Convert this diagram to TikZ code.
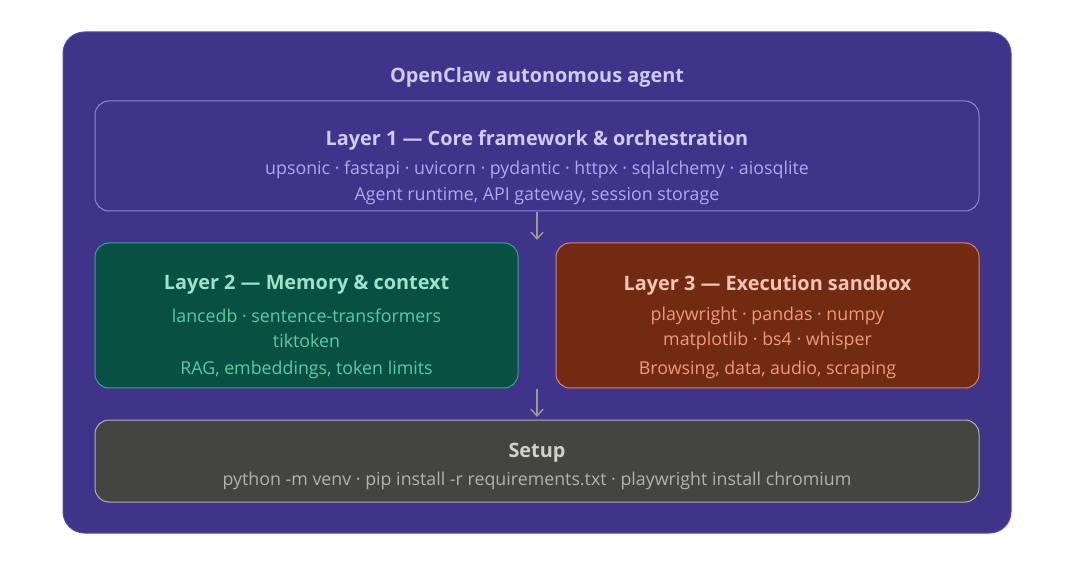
\documentclass[tikz,border=0pt]{standalone}
\usepackage{fontspec}
\setmainfont{Open Sans}
\usetikzlibrary{arrows.meta}
\definecolor{outerfill}{HTML}{3F3489}
\definecolor{outerline}{HTML}{534AB7}
\definecolor{lonefill}{HTML}{3F3489}
\definecolor{loneline}{HTML}{8F86E0}
\definecolor{lonetitle}{HTML}{CECBF6}
\definecolor{lonebody}{HTML}{AFA9EC}
\definecolor{ltwofill}{HTML}{085041}
\definecolor{ltwoline}{HTML}{3AA58A}
\definecolor{ltwotitle}{HTML}{9FE1CB}
\definecolor{ltwobody}{HTML}{5DCAA5}
\definecolor{lthreefill}{HTML}{712B13}
\definecolor{lthreeline}{HTML}{D8826A}
\definecolor{lthreetitle}{HTML}{F5C4B3}
\definecolor{lthreebody}{HTML}{F0997B}
\definecolor{setupfill}{HTML}{444441}
\definecolor{setupline}{HTML}{B4B2A9}
\definecolor{setuptitle}{HTML}{D3D1C7}
\definecolor{setupbody}{HTML}{B4B2A9}
\definecolor{arrowcol}{HTML}{9C9A92}
\begin{document}
\begin{tikzpicture}[x=0.75pt,y=-0.75pt,
  box/.style={rounded corners=10.5pt,line width=0.75pt},
  ttl/.style={font=\fontsize{14.9}{16}\selectfont\bfseries,anchor=center,inner sep=0pt,yshift=-1.6pt},
  bdy/.style={font=\fontsize{13.35}{15}\selectfont,anchor=center,inner sep=0pt,yshift=-1.6pt},
  conn/.style={draw=arrowcol,line width=1.1pt,-{Straight Barb[length=5pt,width=9pt]}}]
\useasboundingbox (0,0) rectangle (1074,584);
\draw[fill=outerfill,draw=outerline,line width=0.75pt,rounded corners=16pt] (63,32) rectangle (1011,533);
\node[ttl,text=lonetitle] (title) at (537,75) {OpenClaw autonomous agent};
% layer 1
\draw[box,fill=lonefill,draw=loneline] (95,101) rectangle (979,211);
\node[ttl,text=lonetitle] (l1t) at (537,138) {Layer 1 — Core framework \& orchestration};
\node[bdy,text=lonebody] (l1a) at (537,168) {upsonic · fastapi · uvicorn · pydantic · httpx · sqlalchemy · aiosqlite};
\node[bdy,text=lonebody] (l1b) at (537,194) {Agent runtime, API gateway, session storage};
% layer 2
\draw[box,fill=ltwofill,draw=ltwoline] (95,243) rectangle (518,388);
\node[ttl,text=ltwotitle] (l2t) at (306.5,283) {Layer 2 — Memory \& context};
\node[bdy,text=ltwobody] (l2a) at (306.5,314) {lancedb · sentence-transformers};
\node[bdy,text=ltwobody] (l2b) at (306.5,339) {tiktoken};
\node[bdy,text=ltwobody] (l2c) at (306.5,368) {RAG, embeddings, token limits};
% layer 3
\draw[box,fill=lthreefill,draw=lthreeline] (556,243) rectangle (979,388);
\node[ttl,text=lthreetitle] (l3t) at (767.5,283) {Layer 3 — Execution sandbox};
\node[bdy,text=lthreebody] (l3a) at (767.5,314) {playwright · pandas · numpy};
\node[bdy,text=lthreebody] (l3b) at (767.5,339) {matplotlib · bs4 · whisper};
\node[bdy,text=lthreebody] (l3c) at (767.5,368) {Browsing, data, audio, scraping};
% setup
\draw[box,fill=setupfill,draw=setupline] (95,420) rectangle (979,502);
\node[ttl,text=setuptitle] (st) at (537,451) {Setup};
\node[bdy,text=setupbody] (sa) at (537,479) {python -m venv · pip install -r requirements.txt · playwright install chromium};
% connectors
\coordinate (a1s) at (537,212);
\coordinate (a1e) at (537,240);
\coordinate (a2s) at (537,389);
\coordinate (a2e) at (537,417);
\draw[conn] (a1s) -- (a1e);
\draw[conn] (a2s) -- (a2e);
\end{tikzpicture}
\end{document}
